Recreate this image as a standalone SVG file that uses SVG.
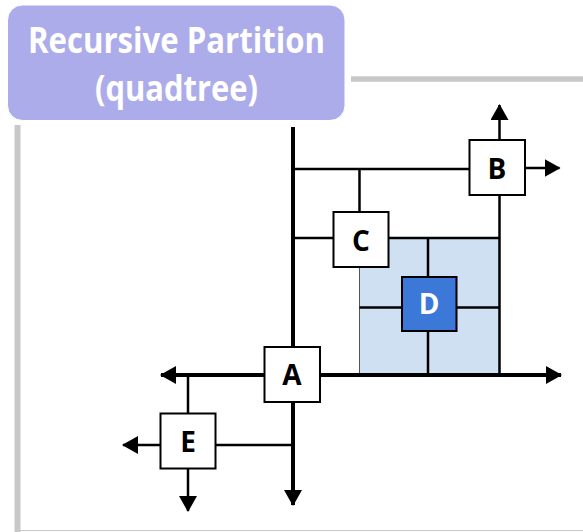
<svg xmlns="http://www.w3.org/2000/svg" width="583" height="532" viewBox="0 0 583 532">
<style>
.frame{stroke:#c8c8c8;fill:none}
.thick{stroke:#000;stroke-width:4;fill:none}
.thin{stroke:#000;stroke-width:2.5;fill:none}
.box{fill:#fff;stroke:#000;stroke-width:2}
.lbl{font-family:"Open Sans","Liberation Sans",sans-serif;font-weight:bold;font-size:28px;text-anchor:middle;fill:#000}
.title{font-family:"Open Sans","Liberation Sans",sans-serif;font-weight:bold;font-size:36px;text-anchor:middle;fill:#fff}
</style>
<defs>
<marker id="ah" markerUnits="userSpaceOnUse" markerWidth="16" markerHeight="18" viewBox="0 0 16 18" refX="15" refY="9" orient="auto">
<path d="M0,0 L16,9 L0,18 Z" fill="#000"/>
</marker>
</defs>
<rect width="583" height="532" fill="#fff"/>
<g id="frame">
<line class="frame" x1="351" y1="79" x2="583" y2="79" stroke-width="5.5"/>
<line class="frame" x1="17.5" y1="125" x2="17.5" y2="532" stroke-width="6"/>
<line class="frame" x1="20" y1="530.5" x2="583" y2="530.5" stroke-width="1"/>
</g>
<g id="title">
<rect x="7.5" y="5" width="337.5" height="115.5" rx="15" ry="15" fill="#adacea" stroke="#fff" stroke-width="1"/>
<text class="title" x="176.5" y="53" textLength="297" lengthAdjust="spacingAndGlyphs">Recursive Partition</text>
<text class="title" x="176.5" y="101" textLength="163" lengthAdjust="spacingAndGlyphs">(quadtree)</text>
</g>
<g id="region">
<rect x="359.5" y="238" width="140" height="137" fill="#cfe0f2" stroke="#555" stroke-width="1"/>
</g>
<g id="connectors">
<line class="thin" x1="428" y1="238" x2="428" y2="375"/>
<line class="thin" x1="359.5" y1="307.5" x2="499.5" y2="307.5"/>
<line class="thin" x1="293" y1="169" x2="469" y2="169"/>
<line class="thin" x1="359.5" y1="169" x2="359.5" y2="212"/>
<line class="thin" x1="293" y1="238" x2="333" y2="238"/>
<line class="thin" x1="388" y1="238" x2="499.5" y2="238"/>
<line class="thin" x1="499.5" y1="195" x2="499.5" y2="375"/>
<line class="thin" x1="499.5" y1="140" x2="499.5" y2="105" marker-end="url(#ah)"/>
<line class="thin" x1="525" y1="168" x2="559.5" y2="168" marker-end="url(#ah)"/>
<line class="thick" x1="293" y1="127" x2="293" y2="505" marker-end="url(#ah)"/>
<line class="thick" x1="293" y1="375" x2="161" y2="375" marker-end="url(#ah)"/>
<line class="thick" x1="293" y1="375" x2="561" y2="375" marker-end="url(#ah)"/>
<line class="thin" x1="188" y1="375" x2="188" y2="413"/>
<line class="thin" x1="215" y1="445" x2="293" y2="445"/>
<line class="thin" x1="160" y1="445" x2="123" y2="445" marker-end="url(#ah)"/>
<line class="thin" x1="188" y1="468" x2="188" y2="511" marker-end="url(#ah)"/>
</g>
<g id="A">
<rect class="box" x="264.5" y="347" width="55.5" height="55"/>
<text class="lbl" x="292" y="385">A</text>
</g>
<g id="B">
<rect class="box" x="469.5" y="140" width="55.5" height="55"/>
<text class="lbl" x="497" y="178.5">B</text>
</g>
<g id="C">
<rect class="box" x="333.5" y="212" width="55" height="55"/>
<text class="lbl" x="361" y="251">C</text>
</g>
<g id="D">
<rect x="402" y="277" width="54.5" height="54" fill="#3b78d8" stroke="#000" stroke-width="2"/>
<text class="lbl" x="429" y="314" style="fill:#fff">D</text>
</g>
<g id="E">
<rect class="box" x="160.5" y="413.5" width="55" height="55"/>
<text class="lbl" x="188" y="451.5">E</text>
</g>
</svg>
